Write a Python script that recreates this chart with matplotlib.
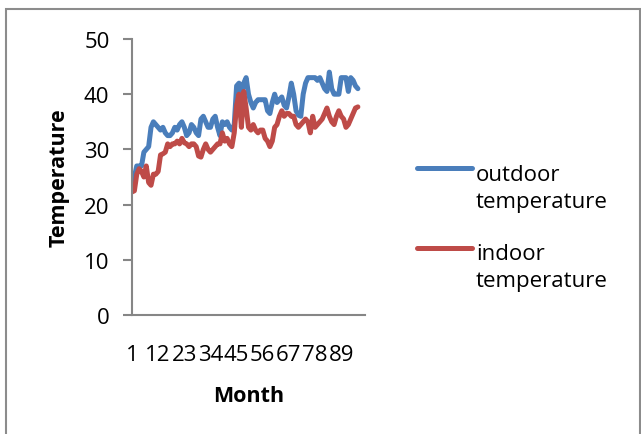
import matplotlib
matplotlib.use("Agg")
import matplotlib.pyplot as plt
from matplotlib.lines import Line2D
from matplotlib.patches import Rectangle
import numpy as np

# daily readings, one value per day
outdoor = [23, 25, 27, 27, 27, 29.5, 30, 30.5, 34, 35, 34.5, 34, 33.5, 34, 33, 32.5,
           32.5, 33, 34, 33.5, 34.5, 35, 34, 32.5, 33, 34.5, 34, 33, 32.5, 35.5, 36, 35,
           34, 34, 35.5, 36, 34, 32.5, 35, 34.5, 35, 34, 33.5, 34.5, 41.5, 42, 40, 42,
           43, 40, 38.5, 37.5, 38.5, 39, 39, 39, 39, 37, 36.5, 38.5, 40, 38.5, 39, 39.5,
           38, 37.5, 39.5, 42, 40, 37, 36.2, 36, 40, 42, 43, 43, 43, 43, 42.5, 43,
           42, 41, 40.5, 44, 41, 40, 40, 40, 43, 43, 43, 40.5, 43, 42.5, 41.5, 41]
indoor = [22.3, 22.5, 25.5, 26.5, 26, 25, 27, 24, 23.5, 25.5, 25.5, 26, 29, 29.2, 29.5, 31,
          30.5, 31, 31, 31.5, 31, 32, 31.2, 31, 30.5, 31, 31, 30.5, 28.8, 28.6, 30, 31,
          30, 29.5, 30, 30.5, 31, 31, 33, 31.5, 32, 31, 30.5, 33, 38, 40, 34, 40.5,
          37.5, 34, 33.5, 34.5, 33.5, 33, 33.5, 33.5, 32, 31.5, 30.5, 31.5, 34, 34.5, 36, 37,
          36, 36.5, 36.5, 36, 36, 34.5, 34, 34.5, 35, 35.5, 35, 33, 36, 34, 34.5, 35,
          35.5, 36.5, 37.5, 36, 35, 34.5, 36, 37, 36, 35.5, 34, 34.5, 35.5, 36.5, 37.5, 37.7]
days = np.arange(1, len(outdoor) + 1)
month_ticks = [1, 12, 23, 34, 45, 56, 67, 78, 89]

plt.rcParams["font.family"] = ["Open Sans", "DejaVu Sans"]

W, H = 641, 435
fs = 16
fig = plt.figure(figsize=(W / 100, H / 100), dpi=100)
ax = fig.add_axes([132 / W, 1 - 316 / H, (365 - 132) / W, (316 - 40) / H])

blue = "#4A7EBB"
red = "#BE4B48"
ax.plot(days, outdoor, color=blue, lw=3.6, solid_joinstyle="round", solid_capstyle="round")
ax.plot(days, indoor, color=red, lw=3.6, solid_joinstyle="round", solid_capstyle="round")

ax.set_xlim(1, 99)
ax.set_ylim(0, 50)
ax.set_yticks([0, 10, 20, 30, 40, 50])
ax.set_xticks(month_ticks)
ax.set_xticklabels([str(m) for m in month_ticks])

axis_grey = "#868686"
for side in ["top", "right"]:
    ax.spines[side].set_visible(False)
for side in ["left", "bottom"]:
    ax.spines[side].set_color(axis_grey)
    ax.spines[side].set_linewidth(1.5)
ax.tick_params(axis="y", length=6.2, width=1.5, color=axis_grey, pad=10, labelsize=fs)
ax.tick_params(axis="x", length=0, pad=21, labelsize=fs)

ax.set_ylabel("Temperature", fontsize=15.5, fontweight="bold", labelpad=10)
ax.set_xlabel("Month", fontsize=15.5, fontweight="bold", labelpad=14)

# legend drawn by hand so the swatch sits on the first text line
for y_line, y_text, col, label in [(169, 189, blue, "outdoor\ntemperature"),
                                   (249, 268, red, "indoor\ntemperature")]:
    fig.add_artist(Line2D([417 / W, 472 / W], [1 - y_line / H] * 2, color=col, lw=3.6,
                          solid_capstyle="round", transform=fig.transFigure))
    fig.text(476 / W, 1 - y_text / H, label, fontsize=fs, va="center", ha="left",
             linespacing=1.32)

# chart area border
fig.add_artist(Rectangle((6 / W, -0.01), (640 - 6) / W, 1.01 - 10 / H, fill=False,
                         edgecolor="#8C8C8C", lw=1.5, transform=fig.transFigure))

fig.savefig("out.png", dpi=100)
